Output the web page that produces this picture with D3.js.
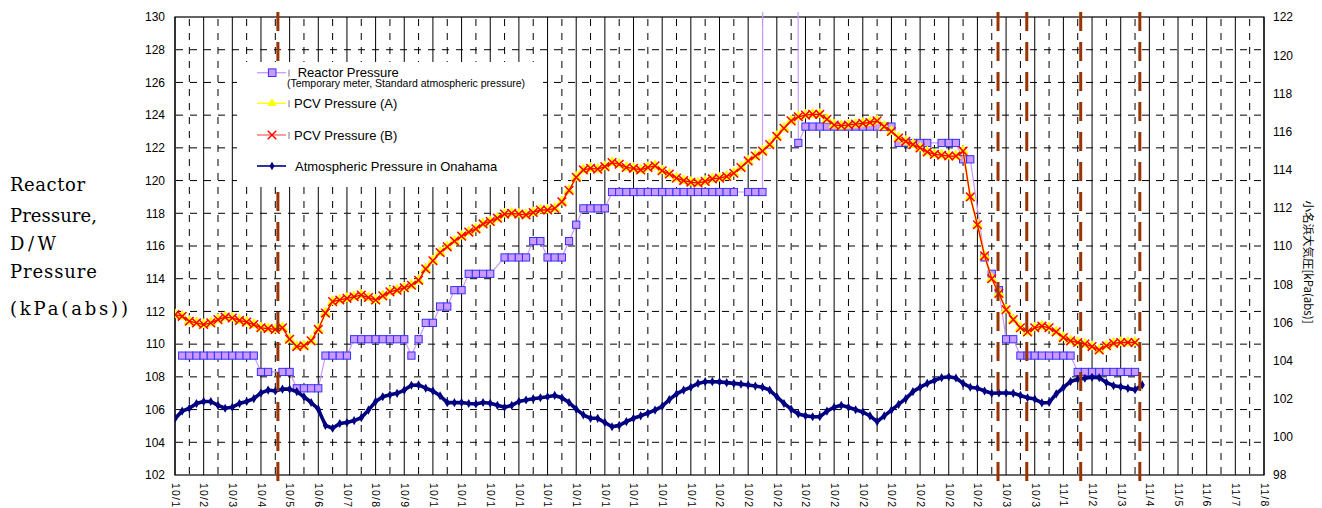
<!DOCTYPE html>
<html>
<head>
<meta charset="utf-8">
<script src="https://cdn.jsdelivr.net/npm/d3@7"></script>
<style>
  body { margin: 0; background: #fff; }
  svg text { font-family: "Liberation Sans", Arial, sans-serif; }
</style>
</head>
<body>
<svg id="chart" width="1322" height="508"></svg>
<script>
// readings every 6 hours starting 10/1 00:00
const firstDay = new Date(Date.UTC(2011, 9, 1));
const lastDay = new Date(Date.UTC(2011, 10, 8));
const stepHours = 6;

const leftTicks = [102, 104, 106, 108, 110, 112, 114, 116, 118, 120, 122, 124, 126, 128, 130];
const rightTicks = [98, 100, 102, 104, 106, 108, 110, 112, 114, 116, 118, 120, 122];

const legendNames = ['Reactor Pressure', 'PCV Pressure (A)', 'PCV Pressure (B)', 'Atmospheric Pressure in Onahama'];
const legendNote = '(Temporary meter, Standard atmospheric pressure)';
const leftTitle = ['Reactor', 'Pressure,', 'D/W', 'Pressure', '(kPa(abs))'];
const rightTitle = '小名浜大気圧[kPa(abs)]';

// dashed event lines (brown)
const eventTimes = ['2011-10-04T14:10Z', '2011-10-29T17:15Z', '2011-10-30T17:20Z', '2011-11-01T14:30Z', '2011-11-03T16:00Z'];

// reactor pressure (kPa abs), null = no reading, 1000 = off-scale reading
const reactor = [
  null, 109.3, 109.3, 109.3, 109.3, 109.3, 109.3, 109.3, 109.3, 109.3,
  109.3, 109.3, 108.3, 108.3, null, 108.3, 108.3, 107.3, 107.3, 107.3,
  107.3, 109.3, 109.3, 109.3, 109.3, 110.3, 110.3, 110.3, 110.3, 110.3,
  110.3, 110.3, 110.3, 109.3, 110.3, 111.3, 111.3, 112.3, 112.3, 113.3,
  113.3, 114.3, 114.3, 114.3, 114.3, null, 115.3, 115.3, 115.3, 115.3,
  116.3, 116.3, 115.3, 115.3, 115.3, 116.3, 117.3, 118.3, 118.3, 118.3,
  118.3, 119.3, 119.3, 119.3, 119.3, 119.3, 119.3, 119.3, 119.3, 119.3,
  119.3, 119.3, 119.3, 119.3, 119.3, 119.3, 119.3, 119.3, 119.3, null,
  119.3, 119.3, 119.3, null, 1000, null, null, 122.3, 123.3, 123.3,
  123.3, 123.3, 123.3, 123.3, 123.3, 123.3, 123.3, 123.3, 123.3, 123.3,
  123.3, 122.3, 122.3, 122.3, 122.3, 122.3, null, 122.3, 122.3, 122.3,
  121.3, 121.3, null, 115.3, 114.3, 113.3, 110.3, 110.3, 109.3, 109.3,
  109.3, 109.3, 109.3, 109.3, 109.3, 109.3, 108.3, 108.3, 108.3, 108.3,
  108.3, 108.3, 108.3, 108.3, 108.3
];

const pcvA = [
  111.8, 111.7, 111.4, 111.3, 111.2, 111.3, 111.5, 111.65, 111.6, 111.45,
  111.35, 111.2, 111.0, 110.95, 110.9, 111.0, 110.3, 109.85, 109.9, 110.2,
  110.9, 111.9, 112.6, 112.7, 112.8, 112.9, 113.0, 112.85, 112.7, 112.95,
  113.2, 113.3, 113.45, 113.6, 113.9, 114.6, 115.1, 115.6, 115.95, 116.3,
  116.6, 116.85, 117.05, 117.35, 117.5, 117.7, 117.95, 118.0, 117.95, 117.9,
  118.05, 118.2, 118.2, 118.3, 118.7, 119.4, 120.2, 120.65, 120.75, 120.7,
  120.85, 121.1, 121.0, 120.8, 120.75, 120.65, 120.8, 120.9, 120.6, 120.4,
  120.15, 120.0, 119.9, 119.85, 119.95, 120.1, 120.15, 120.25, 120.45, 120.8,
  121.2, 121.5, 121.8, 122.2, 122.7, 123.2, 123.65, 123.9, 124.0, 124.05,
  124.05, 123.75, 123.4, 123.35, 123.4, 123.45, 123.5, 123.55, 123.65, 123.3,
  123.0, 122.6, 122.4, 122.2, 122.0, 121.75, 121.6, 121.55, 121.5, 121.5,
  121.8, 119.0, 117.3, 115.4, 114.0, 113.1, 112.1, 111.5, 111.0, 110.75,
  111.0, 111.1, 111.0, 110.75, 110.4, 110.2, 110.1, 110.0, 109.85, 109.65,
  109.9, 110.05, 110.1, 110.1, 110.1
];

const pcvB = [
  111.8, 111.7, 111.4, 111.3, 111.2, 111.3, 111.5, 111.65, 111.6, 111.45,
  111.35, 111.2, 111.0, 110.95, 110.9, 111.0, 110.3, 109.85, 109.9, 110.2,
  110.9, 111.9, 112.6, 112.7, 112.8, 112.9, 113.0, 112.85, 112.7, 112.95,
  113.2, 113.3, 113.45, 113.6, 113.9, 114.6, 115.1, 115.6, 115.95, 116.3,
  116.6, 116.85, 117.05, 117.35, 117.5, 117.7, 117.95, 118.0, 117.95, 117.9,
  118.05, 118.2, 118.2, 118.3, 118.7, 119.4, 120.2, 120.65, 120.75, 120.7,
  120.85, 121.1, 121.0, 120.8, 120.75, 120.65, 120.8, 120.9, 120.6, 120.4,
  120.15, 120.0, 119.9, 119.85, 119.95, 120.1, 120.15, 120.25, 120.45, 120.8,
  121.2, 121.5, 121.8, 122.2, 122.7, 123.2, 123.65, 123.9, 124.0, 124.05,
  124.05, 123.75, 123.4, 123.35, 123.4, 123.45, 123.5, 123.55, 123.65, 123.3,
  123.0, 122.6, 122.4, 122.2, 122.0, 121.75, 121.6, 121.55, 121.5, 121.5,
  121.8, 119.0, 117.3, 115.4, 114.0, 113.1, 112.1, 111.5, 111.0, 110.75,
  111.0, 111.1, 111.0, 110.75, 110.4, 110.2, 110.1, 110.0, 109.85, 109.65,
  109.9, 110.05, 110.1, 110.1, 110.1
];

// atmospheric pressure in Onahama (right axis)
const onahama = [
  100.95, 101.35, 101.5, 101.75, 101.85, 101.85, 101.65, 101.5, 101.55, 101.75,
  101.85, 102.0, 102.3, 102.45, 102.4, 102.5, 102.5, 102.37, 102.1, 101.8,
  101.45, 100.6, 100.45, 100.7, 100.75, 100.85, 101.0, 101.4, 101.85, 102.1,
  102.2, 102.28, 102.45, 102.7, 102.72, 102.55, 102.4, 102.15, 101.79, 101.79,
  101.8, 101.75, 101.72, 101.8, 101.76, 101.65, 101.55, 101.65, 101.85, 101.93,
  102.0, 102.05, 102.1, 102.17, 102.05, 101.8, 101.45, 101.15, 100.97, 100.97,
  100.75, 100.53, 100.6, 100.8, 100.97, 101.1, 101.25, 101.4, 101.6, 101.95,
  102.25, 102.45, 102.6, 102.8, 102.89, 102.89, 102.88, 102.84, 102.8, 102.76,
  102.72, 102.66, 102.6, 102.45, 102.1, 101.75, 101.45, 101.2, 101.1, 101.05,
  101.05, 101.35, 101.55, 101.65, 101.55, 101.42, 101.3, 101.1, 100.8, 101.1,
  101.4, 101.7, 102.0, 102.37, 102.6, 102.8, 102.95, 103.1, 103.15, 103.08,
  102.8, 102.6, 102.55, 102.4, 102.28, 102.3, 102.3, 102.28, 102.17, 102.05,
  101.98, 101.78, 101.8, 102.25, 102.58, 102.9, 103.02, 103.07, 103.12, 103.1,
  102.85, 102.68, 102.62, 102.54, 102.47, 102.72
];

const timeAt = i => d3.utcHour.offset(firstDay, i * stepHours);

let svg = d3.select('#chart');
svg.append('rect').attr('width', 1322).attr('height', 508).attr('fill', '#fff');

let x = d3.scaleUtc().domain([firstDay, lastDay]).range([175, 1264]);
let yL = d3.scaleLinear().domain([102, 130]).range([475, 17]);
let yR = d3.scaleLinear().domain([98, 122]).range([475, 17]);

let days = d3.utcDay.range(firstDay, d3.utcDay.offset(lastDay, 1));
let halfDays = days.slice(0, -1).map(d => d3.utcHour.offset(d, 12));

// grid
let grid = svg.append('g');
grid.selectAll('.hgrid')
  .data(leftTicks.slice(1, -1))
  .join('line')
  .attr('x1', 175).attr('x2', 1264)
  .attr('y1', d => yL(d)).attr('y2', d => yL(d))
  .attr('stroke', '#000').attr('stroke-width', 1)
  .attr('stroke-dasharray', '7,7').attr('stroke-dashoffset', -1);
grid.selectAll('.half')
  .data(halfDays)
  .join('line')
  .attr('x1', d => x(d)).attr('x2', d => x(d))
  .attr('y1', 17).attr('y2', 475)
  .attr('stroke', '#000').attr('stroke-width', 1)
  .attr('stroke-dasharray', '7,7').attr('stroke-dashoffset', -2);
grid.selectAll('.day')
  .data(days)
  .join('line')
  .attr('x1', d => x(d)).attr('x2', d => x(d))
  .attr('y1', 17).attr('y2', 475)
  .attr('stroke', '#000').attr('stroke-width', 1);
grid.append('rect')
  .attr('x', 175).attr('y', 17)
  .attr('width', 1089).attr('height', 458)
  .attr('fill', 'none').attr('stroke', '#000').attr('stroke-width', 1.2);

// axes
let leftAxis = svg.append('g')
  .attr('transform', 'translate(175,0)')
  .call(d3.axisLeft(yL).tickValues(leftTicks).tickSize(0).tickPadding(10));
leftAxis.select('.domain').remove();

let rightAxis = svg.append('g')
  .attr('transform', 'translate(1264,0)')
  .call(d3.axisRight(yR).tickValues(rightTicks).tickSize(0).tickPadding(9));
rightAxis.select('.domain').remove();

[leftAxis, rightAxis].forEach(g => g
  .attr('font-family', '"Liberation Sans", Arial, sans-serif')
  .attr('font-size', 12)
  .selectAll('text').attr('fill', '#000'));

let bottomAxis = svg.append('g')
  .attr('transform', 'translate(0,475)')
  .call(d3.axisBottom(x).tickValues(days).tickFormat(d3.utcFormat('%-m/%-d')).tickSize(0));
bottomAxis.select('.domain').remove();
bottomAxis
  .attr('font-family', '"Liberation Sans", Arial, sans-serif')
  .attr('font-size', 10.5)
  .selectAll('text')
  .attr('fill', '#000')
  .attr('transform', 'rotate(90)')
  .attr('text-anchor', 'start')
  .attr('letter-spacing', 1.2)
  .attr('x', 8).attr('y', 0).attr('dy', '0.35em');

// clip for plotted lines
svg.append('clipPath').attr('id', 'plotClip')
  .append('rect').attr('x', 175).attr('y', 12).attr('width', 1089).attr('height', 463);

let plot = svg.append('g').attr('clip-path', 'url(#plotClip)');

function points(values, y) {
  return values.map((v, i) => ({ t: timeAt(i), v: v, y: y }))
    .filter(d => d.v !== null);
}

// reactor pressure
let reactorPts = points(reactor, yL);
plot.append('path')
  .datum(reactorPts)
  .attr('fill', 'none')
  .attr('stroke', '#CC99FF')
  .attr('stroke-width', 1.2)
  .attr('d', d3.line().x(d => x(d.t)).y(d => yL(d.v)));
plot.selectAll('.rsq')
  .data(reactorPts.filter(d => d.v <= 130))
  .join('rect')
  .attr('x', d => x(d.t) - 3.6).attr('y', d => yL(d.v) - 3.6)
  .attr('width', 7.2).attr('height', 7.2)
  .attr('fill', '#CC99FF').attr('stroke', '#3333FF').attr('stroke-width', 1);

// atmospheric pressure in Onahama
let onaPts = points(onahama, yR);
plot.append('path')
  .datum(onaPts)
  .attr('fill', 'none')
  .attr('stroke', '#000080')
  .attr('stroke-width', 3.6)
  .attr('stroke-linejoin', 'round')
  .attr('d', d3.line().x(d => x(d.t)).y(d => yR(d.v)));
plot.selectAll('.odm')
  .data(onaPts)
  .join('path')
  .attr('transform', d => 'translate(' + x(d.t) + ',' + yR(d.v) + ')')
  .attr('d', d3.symbol(d3.symbolDiamond, 24))
  .attr('fill', '#000080');

// PCV pressure (A)
let aPts = points(pcvA, yL);
plot.append('path')
  .datum(aPts)
  .attr('fill', 'none')
  .attr('stroke', '#FFFF00')
  .attr('stroke-width', 2)
  .attr('d', d3.line().x(d => x(d.t)).y(d => yL(d.v)));
plot.selectAll('.atri')
  .data(aPts)
  .join('path')
  .attr('transform', d => 'translate(' + x(d.t) + ',' + yL(d.v) + ')')
  .attr('d', d3.symbol(d3.symbolTriangle, 44))
  .attr('fill', '#FFFF00').attr('stroke', '#FFFF00');

// PCV pressure (B)
const xMark = 'M-4.3,-4.3L4.3,4.3M-4.3,4.3L4.3,-4.3';
let bPts = points(pcvB, yL);
plot.append('path')
  .datum(bPts)
  .attr('fill', 'none')
  .attr('stroke', '#FF0000')
  .attr('stroke-width', 1.3)
  .attr('d', d3.line().x(d => x(d.t)).y(d => yL(d.v)));
plot.selectAll('.bx')
  .data(bPts)
  .join('path')
  .attr('transform', d => 'translate(' + x(d.t) + ',' + yL(d.v) + ')')
  .attr('d', xMark)
  .attr('fill', 'none').attr('stroke', '#FF0000').attr('stroke-width', 1.5);

// brown event lines
svg.selectAll('.ev')
  .data(eventTimes.map(s => new Date(s)))
  .join('line')
  .attr('x1', d => x(d)).attr('x2', d => x(d))
  .attr('y1', 12).attr('y2', 483)
  .attr('stroke', '#993300').attr('stroke-width', 3)
  .attr('stroke-dasharray', '19,11');

// legend
let legend = svg.append('g');
legend.append('rect')
  .attr('x', 237).attr('y', 62).attr('width', 306).attr('height', 125)
  .attr('fill', '#fff');

const legendY = [72.7, 103.3, 135, 166];
const legendTextX = [297.7, 294, 294, 295];
const legendColors = ['#CC99FF', '#FFFF00', '#FF6666', '#000080'];

legendNames.forEach((name, i) => {
  let ly = legendY[i];
  legend.append('line')
    .attr('x1', 257).attr('x2', 286).attr('y1', ly).attr('y2', ly)
    .attr('stroke', legendColors[i]).attr('stroke-width', i === 3 ? 1.6 : 1.3);
  if (i === 0) {
    legend.append('rect').attr('x', 268.4).attr('y', ly - 3.8).attr('width', 7.6).attr('height', 7.6)
      .attr('fill', '#CC99FF').attr('stroke', '#3333FF');
  } else if (i === 1) {
    legend.append('path').attr('transform', 'translate(272,' + ly + ')')
      .attr('d', d3.symbol(d3.symbolTriangle, 36)).attr('fill', '#FFFF00');
  } else if (i === 2) {
    legend.append('path').attr('transform', 'translate(272,' + ly + ')')
      .attr('d', xMark).attr('fill', 'none').attr('stroke', '#FF0000').attr('stroke-width', 1.4);
  } else {
    legend.append('path').attr('transform', 'translate(272,' + ly + ')')
      .attr('d', d3.symbol(d3.symbolDiamond, 22)).attr('fill', '#000080');
  }
  if (i < 3) {
    legend.append('line')
      .attr('x1', 289).attr('x2', 289).attr('y1', ly - 3).attr('y2', ly + 4)
      .attr('stroke', '#555').attr('stroke-width', 0.8);
  }
  legend.append('text')
    .attr('x', legendTextX[i]).attr('y', ly + 4.6)
    .attr('font-size', 13).attr('fill', '#000')
    .text(name);
});
legend.append('text')
  .attr('x', 287).attr('y', 86.7)
  .attr('font-size', 10.5).attr('fill', '#000')
  .text(legendNote);

// axis titles
const leftTitleY = [191, 222, 250, 278, 315];
const leftTitleW = [75, 87, 46, 87, 118];
svg.append('g').selectAll('text')
  .data(leftTitle)
  .join('text')
  .attr('x', 10)
  .attr('y', (d, i) => leftTitleY[i])
  .attr('textLength', (d, i) => leftTitleW[i])
  .attr('lengthAdjust', 'spacing')
  .style('font-family', '"DejaVu Serif", "Liberation Serif", serif')
  .attr('font-size', 18)
  .attr('fill', '#000')
  .text(d => d);

svg.append('text')
  .attr('transform', 'translate(1304,262) rotate(90)')
  .attr('text-anchor', 'middle')
  .style('font-family', '"Noto Sans CJK JP", sans-serif')
  .attr('font-size', 11.5)
  .attr('fill', '#000')
  .text(rightTitle);
</script>
</body>
</html>
